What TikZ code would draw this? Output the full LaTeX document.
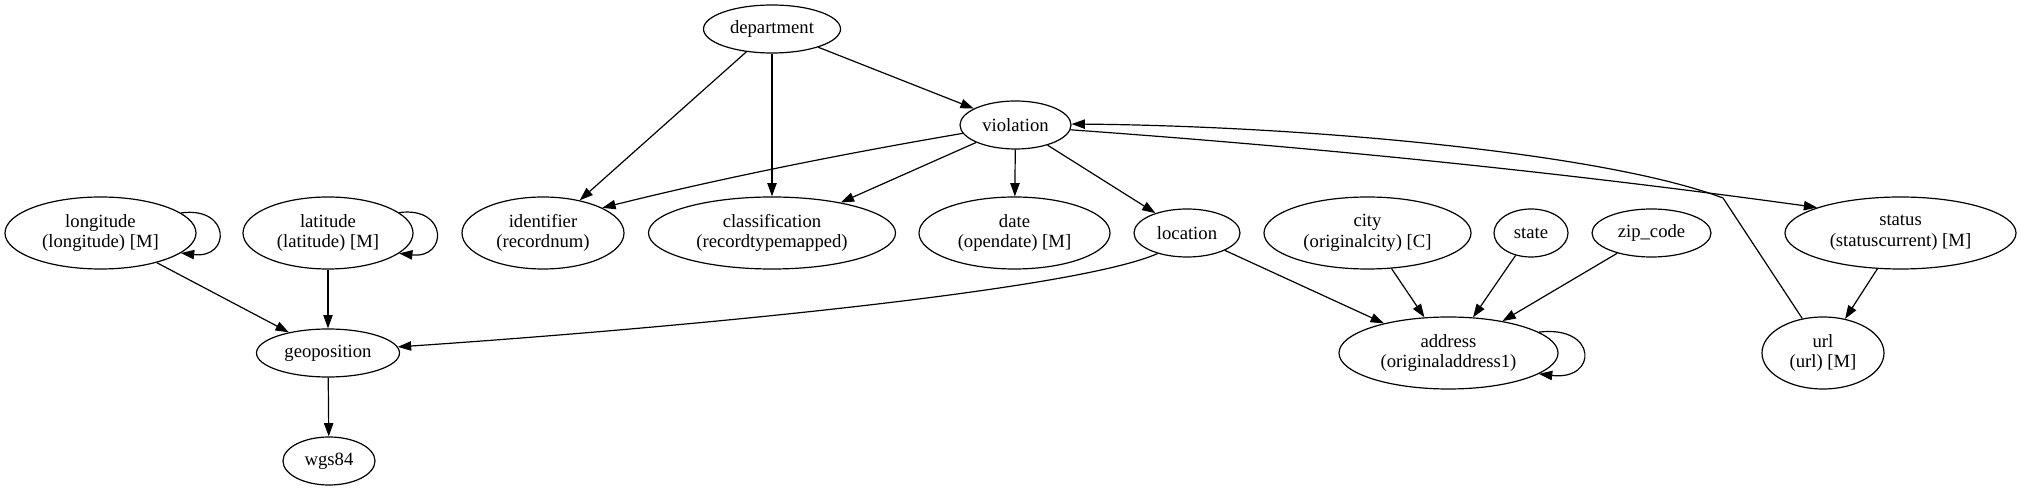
\documentclass[tikz,border=0pt]{standalone}
\usepackage{fontspec}
\setmainfont{Liberation Serif}
\usetikzlibrary{shapes.geometric,arrows.meta}
\begin{document}
\begin{tikzpicture}[x=0.75pt,y=-0.75pt,
  el/.style={draw, ellipse, inner sep=0pt, line width=0.9pt, font=\fontsize{14}{15.5}\selectfont, align=center},
  arr/.style={line width=0.9pt, -{Triangle[length=10pt,width=7pt]}}]
\useasboundingbox (0,0) rectangle (2021,491);
% nodes
\node[el, minimum width=143.25pt, minimum height=54pt] (longitude) at (100.5,233) {longitude\\(longitude) [M]};
\node[el, minimum width=127.5pt, minimum height=54pt] (latitude) at (328,233) {latitude\\(latitude) [M]};
\node[el, minimum width=121.5pt, minimum height=54pt] (identifier) at (543,233) {identifier\\(recordnum)};
\node[el, minimum width=185.25pt, minimum height=54pt] (classification) at (772,233) {classification\\(recordtypemapped)};
\node[el, minimum width=143.25pt, minimum height=54pt] (date) at (1014.5,233) {date\\(opendate) [M]};
\node[el, minimum width=79.5pt, minimum height=36pt] (location) at (1187,233) {location};
\node[el, minimum width=155.25pt, minimum height=54pt] (city) at (1367.5,233) {city\\(originalcity) [C]};
\node[el, minimum width=55.5pt, minimum height=36pt] (state) at (1531,233) {state};
\node[el, minimum width=89.25pt, minimum height=36pt] (zip) at (1651.5,233) {zip\_code};
\node[el, minimum width=173.25pt, minimum height=54pt] (status) at (1900.5,233) {status\\(statuscurrent) [M]};
\node[el, minimum width=102.75pt, minimum height=36pt] (department) at (772,29) {department};
\node[el, minimum width=83.25pt, minimum height=36pt] (violation) at (1015.5,125) {violation};
\node[el, minimum width=107.25pt, minimum height=36pt] (geoposition) at (328,353) {geoposition};
\node[el, minimum width=69pt, minimum height=36pt] (wgs84) at (329,461) {wgs84};
\node[el, minimum width=164.25pt, minimum height=54pt] (address) at (1448.5,353) {address\\(originaladdress1)};
\node[el, minimum width=91.5pt, minimum height=54pt] (url) at (1823,353) {url\\(url) [M]};
\coordinate (urlbend) at (1723,198);
% straight edges
\draw[arr] (department) -- (identifier);
\draw[arr] (department) -- (classification);
\draw[arr] (department) -- (violation);
\draw[arr] (violation) -- (classification);
\draw[arr] (violation) -- (date);
\draw[arr] (violation) -- (location);
\draw[arr] (location) -- (address);
\draw[arr] (city) -- (address);
\draw[arr] (state) -- (address);
\draw[arr] (zip) -- (address);
\draw[arr] (status) -- (url);
\draw[arr] (longitude) -- (geoposition);
\draw[arr] (latitude) -- (geoposition);
\draw[arr] (geoposition) -- (wgs84);
% curved edges
\draw[arr] (violation.189) .. controls (842,154) and (722,178) .. (identifier.23);
\draw[arr] (violation.-5) .. controls (1325,148) and (1567,173) .. (status.163);
\draw[arr] (url.121) -- (urlbend) .. controls (1600,152) and (1300,126) .. (violation.1);
\draw[arr] (location.215) .. controls (1070,292) and (650,330) .. (geoposition.5);
% self loops
\draw[arr] (longitude.14) .. controls (231,206) and (231,259) .. (longitude.-14);
\draw[arr] (latitude.16) .. controls (448,206) and (448,259) .. (latitude.-16);
\draw[arr] (address.13) .. controls (1598,325) and (1598,381) .. (address.-13);
\end{tikzpicture}
\end{document}
